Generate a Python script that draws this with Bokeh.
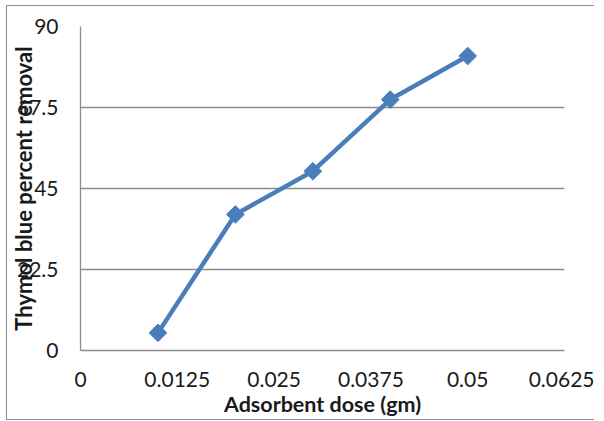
import math
from bokeh.plotting import figure
from bokeh.models import FixedTicker, Range1d
from bokeh.embed import file_html
from bokeh.resources import INLINE

# Data
dose = [0.01, 0.02, 0.03, 0.04, 0.05]
removal = [4.9, 37.8, 49.8, 69.7, 81.8]

x_ticks = [0, 0.0125, 0.025, 0.0375, 0.05, 0.0625]
x_tick_labels = ["0", "0.0125", "0.025", "0.0375", "0.05", "0.0625"]
y_ticks = [0, 22.5, 45, 67.5, 90]
y_tick_labels = ["0", "22.5", "45", "67.5", "90"]

x_title = "Adsorbent dose (gm)"
y_title = "Thymol blue percent removal"

FONT = "Lato"
BLUE = "#4A7EBB"
GRID = "#8c8c8c"
TEXT = "#1a1a1a"

p = figure(
    frame_width=484, frame_height=324,
    x_range=Range1d(0, 0.0625), y_range=Range1d(0, 90),
    min_border_left=60, min_border_right=30,
    min_border_top=20, min_border_bottom=68,
    output_backend="svg", toolbar_location=None,
)
p.styles = {
    "margin-left": "6px",
    "margin-top": "5px",
    "border-left": "1.5px solid #8e8e8e",
    "border-top": "1.5px solid #8e8e8e",
    "border-bottom": "1.5px solid #8e8e8e",
}
p.outline_line_color = None
p.background_fill_color = "white"
p.border_fill_color = "white"

p.xgrid.visible = False
p.ygrid.ticker = FixedTicker(ticks=y_ticks)
p.ygrid.grid_line_color = GRID
p.ygrid.grid_line_width = 1.3

# X axis
p.xaxis.ticker = FixedTicker(ticks=x_ticks)
p.xaxis.major_label_overrides = {t: l for t, l in zip(x_ticks, x_tick_labels)}
p.xaxis.axis_label = x_title
p.xaxis.axis_label_standoff = 1

# Y axis
p.yaxis.ticker = FixedTicker(ticks=y_ticks)
p.yaxis.major_label_overrides = {t: l for t, l in zip(y_ticks, y_tick_labels)}
p.yaxis.axis_label = y_title

for ax in (p.xaxis, p.yaxis):
    ax.axis_line_color = GRID
    ax.axis_line_width = 1.3
    ax.major_tick_line_color = None
    ax.minor_tick_line_color = None
    ax.major_tick_out = 0
    ax.major_tick_in = 0
    ax.minor_tick_out = 0
    ax.minor_tick_in = 0
    ax.major_label_text_font = FONT
    ax.major_label_text_font_size = "21px"
    ax.major_label_text_color = TEXT
    ax.axis_label_text_font = FONT
    ax.axis_label_text_font_style = "bold"
    ax.axis_label_text_font_size = "21.5px"
    ax.axis_label_text_color = TEXT

p.yaxis.axis_label_text_font_size = "22px"
p.yaxis.axis_label_standoff = -23
p.xaxis.major_label_standoff = 21
p.yaxis.major_label_standoff = 22

p.line(dose, removal, line_color=BLUE, line_width=4.5)
p.scatter(dose, removal, marker="square", size=12.5, angle=math.pi / 4,
          fill_color=BLUE, line_color=BLUE)

open("out.html", "w").write(file_html(p, INLINE))
